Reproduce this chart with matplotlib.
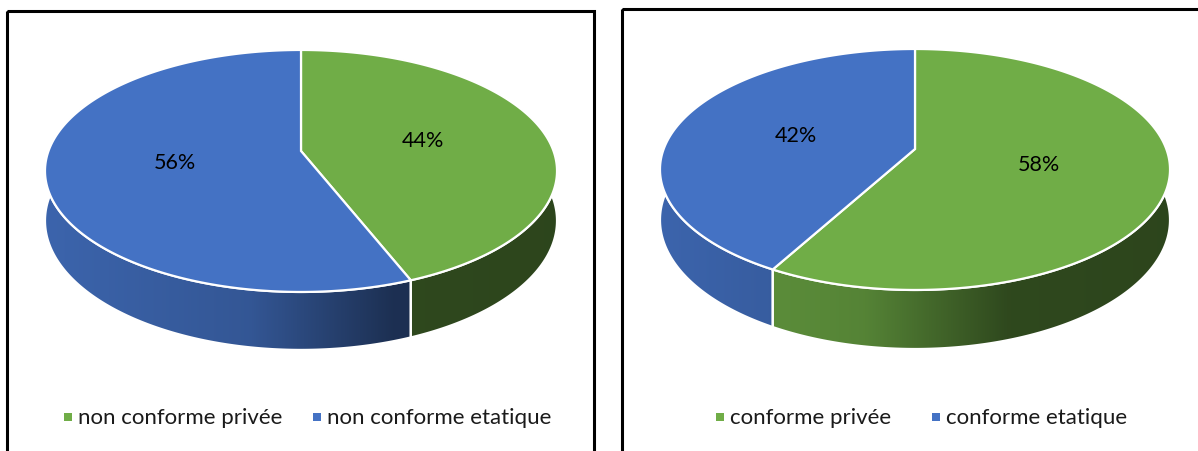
import numpy as np
import matplotlib
matplotlib.use("Agg")
import matplotlib.pyplot as plt
from matplotlib.patches import Polygon, Rectangle
from matplotlib.colors import to_rgb

# --- data -------------------------------------------------------------
left_labels = ["non conforme privée", "non conforme etatique"]
left_values = [44, 56]
right_labels = ["conforme privée", "conforme etatique"]
right_values = [58, 42]
slice_colors = ["#70AD47", "#4472C4"]

W, H = 1198, 452
fig = plt.figure(figsize=(W / 100, H / 100), dpi=100)
ax = fig.add_axes([0, 0, 1, 1])
ax.set_xlim(0, W)
ax.set_ylim(H, 0)
ax.axis("off")

FONT = "Lato"


def shade(t):
    """Darkening factor of the side wall across the pie, lit from the left."""
    return np.interp(t, [0.0, 0.4, 0.68, 1.0], [0.88, 0.76, 0.42, 0.40])


def draw_pie3d(values, labels, cx, cy, A, B, k, depth, legend_y, legend_x,
               legend_gap):
    total = float(sum(values))

    def proj(theta, r=1.0):
        u = r * np.sin(theta)
        v = r * np.cos(theta)
        w = 1.0 + k * v
        return cx + A * u / w, cy - B * v / w, w

    left_x = cx - A * 1.02
    right_x = cx + A * 1.02
    y_top = cy - B * 1.0 / (1 + k) - 5
    y_bot = cy + B / (1 - k) + depth / (1 - k) + 5

    # side walls
    start = 0.0
    for val, col in zip(values, slice_colors):
        a0 = start
        a1 = start + 2 * np.pi * val / total
        start = a1
        th = np.linspace(a0, a1, 300)
        X, Y, Wd = proj(th)
        Yb = Y + depth / Wd
        pts = np.vstack([np.column_stack([X, Y]),
                         np.column_stack([X[::-1], Yb[::-1]])])
        poly = Polygon(pts, closed=True, facecolor="none", edgecolor="none")
        ax.add_patch(poly)
        base = np.array(to_rgb(col))
        xs = np.linspace(0, 1, 400)
        f = shade(xs)
        img = (base[None, None, :] * f[None, :, None]).repeat(2, axis=0)
        im = ax.imshow(img, extent=[left_x, right_x, y_bot, y_top],
                       aspect="auto", interpolation="bilinear", zorder=1)
        im.set_clip_path(poly)
        # white outline of the wall
        ax.add_patch(Polygon(pts, closed=True, facecolor="none",
                             edgecolor="white", lw=1.6, zorder=2))

    # top faces
    start = 0.0
    for val, col in zip(values, slice_colors):
        a0 = start
        a1 = start + 2 * np.pi * val / total
        start = a1
        th = np.linspace(a0, a1, 300)
        X, Y, _ = proj(th)
        pts = np.vstack([[cx, cy], np.column_stack([X, Y])])
        ax.add_patch(Polygon(pts, closed=True, facecolor=col,
                             edgecolor="white", lw=1.6, zorder=3,
                             joinstyle="miter"))
        mid = (a0 + a1) / 2
        lx, ly, _ = proj(mid, 0.5)
        ax.text(lx, ly, f"{val}%", ha="center", va="center",
                fontsize=15.5, family=FONT, color="black", zorder=5)

    # legend
    x = legend_x
    for lab, col in zip(labels, slice_colors):
        ax.add_patch(Rectangle((x, legend_y - 4), 8, 8, facecolor=col,
                               edgecolor="none", zorder=5))
        t = ax.text(x + 14, legend_y, lab, ha="left", va="center",
                    fontsize=16, family=FONT, color="#1a1a1a", zorder=5)
        fig.canvas.draw()
        bb = t.get_window_extent()
        x = x + 14 + bb.width + legend_gap


# panel frames
ax.add_patch(Rectangle((7, 12), 587, 470, facecolor="none",
                       edgecolor="black", lw=2.2, zorder=10))
ax.add_patch(Rectangle((622, 10), 600, 470, facecolor="none",
                       edgecolor="black", lw=2.2, zorder=10))

draw_pie3d(left_values, left_labels, cx=301, cy=152, A=252.5, B=117.7,
           k=0.165, depth=48.4, legend_y=418, legend_x=64, legend_gap=31)
draw_pie3d(right_values, right_labels, cx=915, cy=150, A=251.3, B=117.0,
           k=0.170, depth=49.0, legend_y=418, legend_x=716, legend_gap=41)

fig.savefig("out.png", dpi=100)
